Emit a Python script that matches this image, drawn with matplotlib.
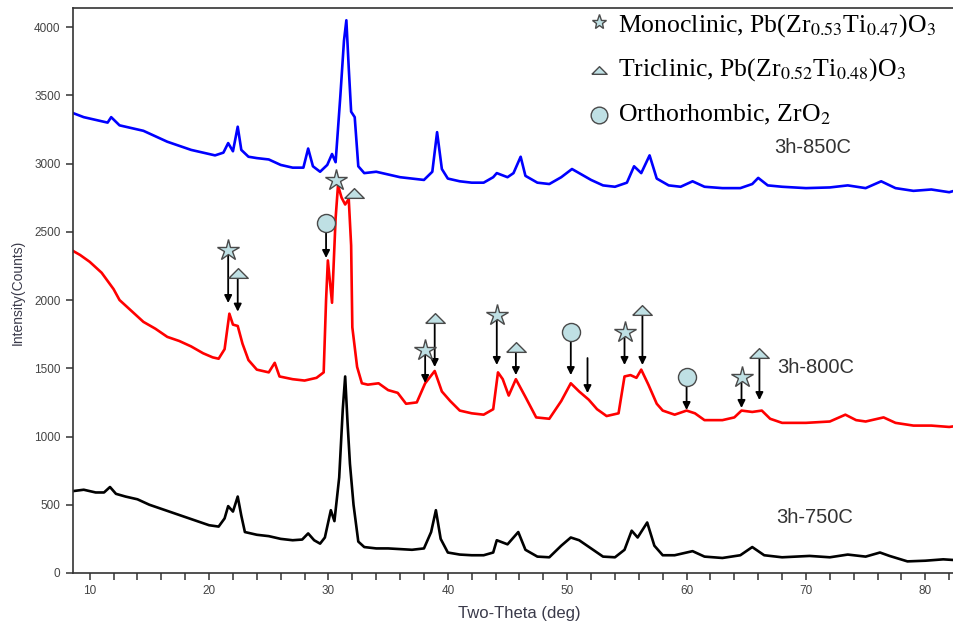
import matplotlib
matplotlib.use("Agg")
import matplotlib.pyplot as plt
from matplotlib.ticker import MultipleLocator

plt.rcParams['font.family'] = ['Liberation Sans', 'DejaVu Sans']
plt.rcParams['mathtext.fontset'] = 'stix'

# 2-theta (deg) / counts
theta_850 = [8.6, 9.5, 10.5, 11.5, 11.8, 12.5, 13.5, 14.5, 15.5, 16.5, 17.5, 18.5, 19.5, 20.5,
             21.2, 21.6, 22.0, 22.4, 22.7, 23.3, 24, 25, 26, 27, 27.9, 28.3, 28.7, 29.3, 29.9,
             30.3, 30.6, 31.0, 31.3, 31.5, 31.7, 31.9, 32.2, 32.5, 33.0, 34, 35, 36, 37, 38,
             38.7, 39.1, 39.5, 40, 41, 42, 43, 43.8, 44.1, 45, 45.5, 46.1, 46.5, 47.5, 48.5,
             49.5, 50.4, 51, 52, 53, 54, 55, 55.6, 56.2, 56.9, 57.5, 58.5, 59.5, 60.5, 61.5,
             63, 64.5, 65.5, 66.0, 66.8, 68, 70, 72, 73.5, 75, 76.3, 77.5, 79, 80.5, 82, 82.4]
counts_850 = [3370, 3340, 3320, 3300, 3340, 3280, 3260, 3240, 3200, 3160, 3130, 3100, 3080, 3060,
              3080, 3150, 3090, 3270, 3100, 3050, 3040, 3030, 2990, 2970, 2970, 3110, 2980, 2940, 2990,
              3070, 3010, 3500, 3900, 4050, 3700, 3380, 3340, 2980, 2930, 2940, 2920, 2900, 2890, 2880,
              2940, 3230, 2960, 2890, 2870, 2860, 2860, 2900, 2930, 2900, 2930, 3050, 2910, 2860, 2850,
              2900, 2960, 2930, 2880, 2840, 2830, 2860, 2980, 2930, 3060, 2890, 2840, 2830, 2870, 2830,
              2820, 2820, 2850, 2895, 2840, 2830, 2820, 2825, 2840, 2820, 2870, 2820, 2800, 2810, 2790, 2800]

theta_800 = [8.6, 9.2, 10, 11, 12, 12.5, 13.5, 14.5, 15.5, 16.5, 17.5, 18.5, 19.5, 20.3, 20.8,
             21.3, 21.7, 22.0, 22.4, 22.8, 23.3, 24, 25, 25.5, 25.9, 27, 28, 29, 29.6, 29.8,
             29.95, 30.3, 30.6, 30.8, 31.1, 31.4, 31.7, 31.9, 32.0, 32.4, 32.8, 33.3, 34.2, 35,
             35.8, 36.5, 37.4, 38.1, 38.9, 39.5, 40.2, 41, 42, 43, 43.8, 44.2, 44.6, 45.1, 45.7,
             46.5, 47.4, 48.5, 49.5, 50.3, 51, 51.8, 52.5, 53.3, 54.3, 54.8, 55.3, 55.8, 56.2,
             56.8, 57.5, 58, 59, 60, 60.7, 61.5, 63, 64, 64.6, 65.5, 66.3, 67, 68, 70, 72, 73.3,
             74.2, 75, 76.5, 77.5, 79, 80.5, 82, 82.4]
counts_800 = [2360, 2330, 2280, 2200, 2080, 2000, 1920, 1840, 1790, 1730, 1700, 1660, 1610, 1580, 1570,
              1640, 1900, 1820, 1810, 1680, 1560, 1490, 1470, 1540, 1440, 1420, 1410, 1430, 1470, 2000,
              2290, 1980, 2600, 2840, 2750, 2700, 2740, 2400, 1800, 1510, 1390, 1380, 1390, 1340,
              1320, 1240, 1250, 1390, 1480, 1330, 1260, 1190, 1170, 1160, 1200, 1470, 1420, 1300, 1420,
              1290, 1140, 1130, 1260, 1390, 1330, 1270, 1200, 1150, 1170, 1440, 1450, 1430, 1490,
              1380, 1240, 1190, 1160, 1190, 1170, 1120, 1120, 1140, 1190, 1180, 1190, 1130, 1100, 1100, 1110, 1160,
              1120, 1110, 1140, 1100, 1080, 1080, 1070, 1075]

theta_750 = [8.6, 9.5, 10.5, 11.2, 11.7, 12.2, 13, 14, 15, 16, 17, 18, 19, 20, 20.8, 21.3, 21.6,
             22.0, 22.4, 22.7, 23.0, 24, 25, 26, 27, 27.8, 28.3, 28.8, 29.3, 29.7, 30.2, 30.5,
             30.9, 31.2, 31.4, 31.6, 31.8, 32.1, 32.5, 33, 34, 35, 36, 37, 38, 38.6, 39.0, 39.4,
             40, 41, 42, 43, 43.8, 44.1, 45, 45.9, 46.5, 47.5, 48.5, 49.5, 50.3, 51, 52, 53, 54,
             54.8, 55.4, 55.9, 56.7, 57.3, 58, 59, 60.5, 61.5, 63, 64.5, 65.5, 66.5, 68, 70.3, 72,
             73.5, 75, 76.2, 77, 78.5, 80, 81.5, 82.4]
counts_750 = [600, 610, 590, 590, 630, 580, 560, 540, 500, 470, 440, 410, 380, 350, 340, 400, 490,
              450, 560, 420, 300, 280, 270, 250, 240, 245, 290, 240, 215, 260, 460, 380,
              700, 1200, 1440, 1100, 800, 500, 230, 190, 180, 180, 175, 170, 180, 300, 460, 250,
              150, 135, 130, 130, 150, 240, 210, 300, 170, 120, 115, 200, 260, 240, 180, 120, 115,
              170, 310, 260, 370, 200, 130, 130, 160, 120, 110, 130, 190, 130, 115, 125, 115,
              135, 120, 150, 125, 85, 90, 100, 95]

# phase marks on the 800C scan: (kind, 2-theta, symbol height, arrow tip)
mark_kind = ['star', 'tri', 'circ', 'star', 'tri', 'star', 'tri', 'star', 'tri', 'circ',
             None, 'star', 'tri', 'circ', 'star', 'tri']
mark_theta = [21.6, 22.4, 29.8, 30.6, 32.1, 38.1, 38.9, 44.1, 45.7, 50.3,
              51.7, 54.8, 56.3, 60.0, 64.6, 66.1]
mark_top = [2366, 2198, 2564, 2880, 2784, 1634, 1868, 1890, 1656, 1766,
            1575, 1766, 1927, 1436, 1436, 1612]
mark_tip = [1978, 1915, 2308, None, None, 1392, 1509, 1524, 1450, 1450,
            1318, 1524, 1524, 1194, 1209, 1267]

phase_labels = [r'Monoclinic, Pb(Zr$_{\mathrm{0.53}}$Ti$_{\mathrm{0.47}}$)O$_{\mathrm{3}}$',
                r'Triclinic, Pb(Zr$_{\mathrm{0.52}}$Ti$_{\mathrm{0.48}}$)O$_{\mathrm{3}}$',
                r'Orthorhombic, ZrO$_{\mathrm{2}}$']

face = '#bfe0e4'
edge = '#4a4a4a'
tri_marker = [(-1, -0.5), (1, -0.5), (0, 0.5), (-1, -0.5)]
styles = {'star': dict(marker='*', markersize=16),
          'tri': dict(marker=tri_marker, markersize=14),
          'circ': dict(marker='o', markersize=13)}

fig = plt.figure(figsize=(9.54, 6.28), dpi=100)
ax = fig.add_axes([0.0765, 0.0876, 0.9235, 0.8997])

ax.plot(theta_850, counts_850, color='#0000ff', lw=1.9)
ax.plot(theta_800, counts_800, color='#ff0000', lw=1.9)
ax.plot(theta_750, counts_750, color='black', lw=1.9)

for kind, x, top, tip in zip(mark_kind, mark_theta, mark_top, mark_tip):
    if tip is not None:
        ax.annotate('', xy=(x, tip), xytext=(x, top),
                    arrowprops=dict(arrowstyle='-|>', color='black', lw=1.3,
                                    mutation_scale=11, shrinkA=0, shrinkB=0))
    if kind is not None:
        ax.plot([x], [top], ls='none', mfc=face, mec=edge, mew=1, zorder=5, **styles[kind])

ax.text(70.6, 3121, '3h-850C', fontsize=14.5, color='#333333', ha='center', va='center')
ax.text(70.8, 1502, '3h-800C', fontsize=14.5, color='#333333', ha='center', va='center')
ax.text(70.7, 403, '3h-750C', fontsize=14.5, color='#333333', ha='center', va='center')

# key for the phase symbols, top right
key_marker_y = [0.965, 0.889, 0.817]
key_text_y = [0.949, 0.879, 0.806]
key_sizes = [11, 11, 12]
for kind, label, my, ty, ms in zip(['star', 'tri', 'circ'], phase_labels,
                                   key_marker_y, key_text_y, key_sizes):
    st = dict(styles[kind])
    st['markersize'] = ms
    fig.add_artist(plt.Line2D([0.628], [my], transform=fig.transFigure, ls='none',
                              mfc=face, mec=edge, mew=1, **st))
    fig.text(0.648, ty, label, fontsize=18.5, family=['Liberation Serif', 'DejaVu Serif'],
             va='baseline', ha='left', color='black')

ax.set_xlim(8.6, 82.4)
ax.set_ylim(0, 4140)
ax.xaxis.set_major_locator(MultipleLocator(10))
ax.xaxis.set_minor_locator(MultipleLocator(2))
ax.yaxis.set_major_locator(MultipleLocator(500))
ax.tick_params(axis='both', which='both', direction='out', length=5, width=1.1,
               color='#333333', labelsize=8.5, labelcolor='#444444')
ax.tick_params(axis='y', pad=4)
for side in ['left', 'bottom', 'top']:
    ax.spines[side].set_linewidth(1.2)
    ax.spines[side].set_color('#333333')
ax.spines['right'].set_visible(False)

ax.set_xlabel('Two-Theta (deg)', fontsize=12, color='#3a3a4a', va='top')
ax.xaxis.set_label_coords(0.507, -0.058)
ax.set_ylabel('Intensity(Counts)', fontsize=10, color='#3a3a4a', va='center')
ax.yaxis.set_label_coords(-0.0624, 0.497)

fig.savefig('out.png', dpi=100)
